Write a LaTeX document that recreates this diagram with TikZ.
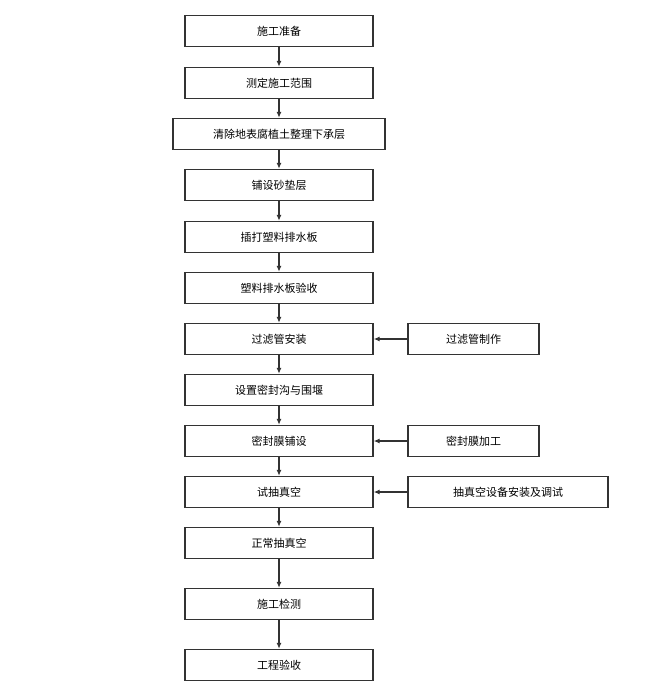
\documentclass[tikz,border=0pt]{standalone}
\usepackage{fontspec}
\newfontfamily\cjk{Noto Sans CJK SC}
\usetikzlibrary{arrows.meta}
\begin{document}
\begin{tikzpicture}[x=1pt,y=-1pt,
  box/.style={draw=black!80,line width=1.3pt,minimum height=31pt,inner sep=0pt,font=\cjk\fontsize{11}{13}\selectfont},
  mb/.style={box,minimum width=188pt},
  arr/.style={draw=black!80,line width=1.2pt,-{Latex[length=6pt,width=5pt]}}]
\useasboundingbox (0,0) rectangle (664,686);
\node[mb] (n1) at (279,31) {施工准备};
\node[mb] (n2) at (279,83) {测定施工范围};
\node[box,minimum width=212pt] (n3) at (279,134) {清除地表腐植土整理下承层};
\node[mb] (n4) at (279,185) {铺设砂垫层};
\node[mb] (n5) at (279,237) {插打塑料排水板};
\node[mb] (n6) at (279,288) {塑料排水板验收};
\node[mb] (n7) at (279,339) {过滤管安装};
\node[mb] (n8) at (279,390) {设置密封沟与围堰};
\node[mb] (n9) at (279,441) {密封膜铺设};
\node[mb] (n10) at (279,492) {试抽真空};
\node[mb] (n11) at (279,543) {正常抽真空};
\node[mb] (n12) at (279,604) {施工检测};
\node[mb] (n13) at (279,665) {工程验收};
\node[box,minimum width=131pt] (r1) at (473.5,339) {过滤管制作};
\node[box,minimum width=131pt] (r2) at (473.5,441) {密封膜加工};
\node[box,minimum width=200pt] (r3) at (508,492) {抽真空设备安装及调试};
\foreach \a/\b in {n1/n2,n2/n3,n3/n4,n4/n5,n5/n6,n6/n7,n7/n8,n8/n9,n9/n10,n10/n11,n11/n12,n12/n13}
  \draw[arr] (\a) -- (\b);
\draw[arr] (r1) -- (n7);
\draw[arr] (r2) -- (n9);
\draw[arr] (r3) -- (n10);
\end{tikzpicture}
\end{document}
